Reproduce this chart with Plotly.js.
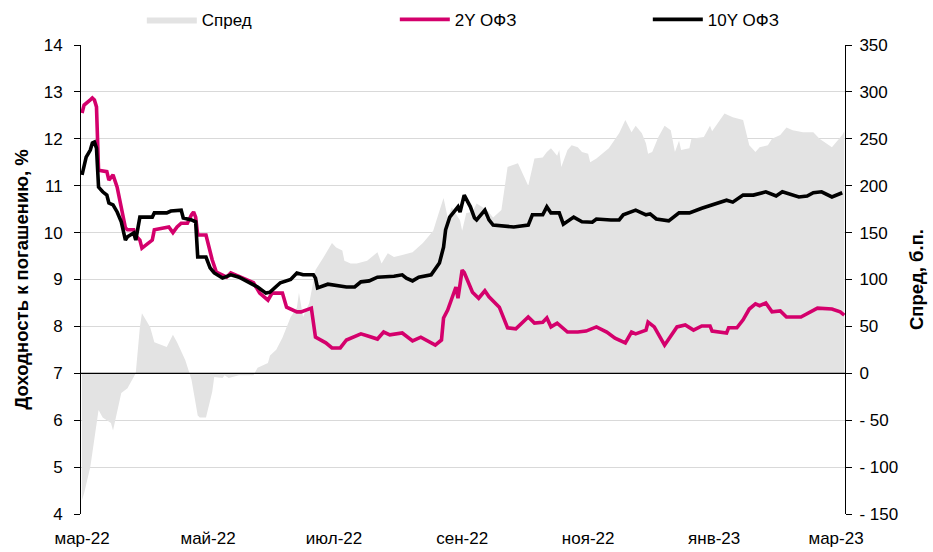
<!DOCTYPE html>
<html>
<head>
<meta charset="utf-8">
<script src="https://cdn.plot.ly/plotly-3.0.1.min.js"></script>
<style>html,body{margin:0;padding:0;background:#fff;}#chart{width:933px;height:552px;}</style>
</head>
<body>
<div id="chart"></div>
<script>
// 10Y OFZ yield, %
const dates10Y = ["2022-03-01","2022-03-03","2022-03-05","2022-03-06","2022-03-07","2022-03-08","2022-03-09","2022-03-11","2022-03-13","2022-03-14","2022-03-16","2022-03-18","2022-03-20","2022-03-22","2022-03-23","2022-03-26","2022-03-27","2022-03-29","2022-04-04","2022-04-05","2022-04-11","2022-04-13","2022-04-18","2022-04-19","2022-04-23","2022-04-25","2022-04-26","2022-04-30","2022-05-02","2022-05-04","2022-05-08","2022-05-12","2022-05-16","2022-05-20","2022-05-25","2022-05-29","2022-05-31","2022-06-05","2022-06-10","2022-06-13","2022-06-16","2022-06-21","2022-06-22","2022-06-23","2022-06-28","2022-07-07","2022-07-11","2022-07-14","2022-07-18","2022-07-22","2022-07-27","2022-07-30","2022-08-03","2022-08-05","2022-08-08","2022-08-11","2022-08-17","2022-08-20","2022-08-21","2022-08-23","2022-08-24","2022-08-26","2022-08-30","2022-08-31","2022-09-02","2022-09-05","2022-09-07","2022-09-08","2022-09-12","2022-09-14","2022-09-16","2022-09-26","2022-10-03","2022-10-05","2022-10-10","2022-10-12","2022-10-14","2022-10-18","2022-10-20","2022-10-25","2022-10-29","2022-11-03","2022-11-05","2022-11-12","2022-11-16","2022-11-18","2022-11-24","2022-11-29","2022-12-01","2022-12-04","2022-12-10","2022-12-15","2022-12-20","2022-12-26","2022-12-31","2023-01-07","2023-01-10","2023-01-15","2023-01-20","2023-01-26","2023-01-31","2023-02-03","2023-02-11","2023-02-15","2023-02-18","2023-02-22","2023-02-27","2023-03-04"];
const yield10Y = [11.23,11.61,11.76,11.91,11.93,11.80,10.97,10.87,10.80,10.63,10.59,10.44,10.23,9.84,9.91,9.99,9.84,10.33,10.33,10.42,10.42,10.46,10.48,10.31,10.27,10.23,9.48,9.48,9.25,9.14,9.03,9.10,9.05,8.95,8.84,8.71,8.73,8.93,9.00,9.14,9.10,9.10,9.03,8.82,8.90,8.84,8.84,8.95,8.97,9.05,9.06,9.07,9.10,9.03,8.97,9.05,9.10,9.27,9.35,9.69,10.06,10.33,10.55,10.44,10.80,10.55,10.31,10.27,10.48,10.27,10.16,10.12,10.16,10.38,10.38,10.55,10.42,10.42,10.18,10.33,10.23,10.22,10.29,10.27,10.27,10.38,10.48,10.38,10.40,10.29,10.25,10.42,10.42,10.52,10.59,10.69,10.65,10.80,10.80,10.87,10.78,10.87,10.76,10.78,10.85,10.87,10.76,10.85];

// 2Y OFZ yield, %
const dates2Y = ["2022-03-01","2022-03-02","2022-03-05","2022-03-06","2022-03-07","2022-03-08","2022-03-09","2022-03-13","2022-03-14","2022-03-16","2022-03-18","2022-03-19","2022-03-22","2022-03-23","2022-03-26","2022-03-27","2022-03-29","2022-03-30","2022-04-04","2022-04-05","2022-04-12","2022-04-14","2022-04-16","2022-04-18","2022-04-21","2022-04-23","2022-04-24","2022-04-25","2022-04-26","2022-04-30","2022-05-01","2022-05-03","2022-05-05","2022-05-10","2022-05-12","2022-05-18","2022-05-23","2022-05-26","2022-05-30","2022-06-01","2022-06-06","2022-06-08","2022-06-13","2022-06-15","2022-06-20","2022-06-22","2022-06-27","2022-06-30","2022-07-04","2022-07-07","2022-07-10","2022-07-14","2022-07-17","2022-07-22","2022-07-25","2022-07-28","2022-08-03","2022-08-06","2022-08-08","2022-08-12","2022-08-16","2022-08-19","2022-08-22","2022-08-23","2022-08-25","2022-08-29","2022-08-30","2022-09-01","2022-09-02","2022-09-06","2022-09-09","2022-09-12","2022-09-14","2022-09-19","2022-09-23","2022-09-27","2022-10-03","2022-10-06","2022-10-10","2022-10-12","2022-10-14","2022-10-17","2022-10-22","2022-10-27","2022-10-31","2022-11-05","2022-11-10","2022-11-14","2022-11-19","2022-11-22","2022-11-24","2022-11-29","2022-11-30","2022-12-03","2022-12-08","2022-12-14","2022-12-18","2022-12-22","2022-12-26","2022-12-30","2022-12-31","2023-01-05","2023-01-07","2023-01-08","2023-01-12","2023-01-15","2023-01-18","2023-01-21","2023-01-23","2023-01-26","2023-01-29","2023-02-02","2023-02-05","2023-02-12","2023-02-16","2023-02-20","2023-02-27","2023-03-03","2023-03-05"];
const yield2Y = [12.55,12.72,12.83,12.87,12.83,12.68,11.33,11.30,11.12,11.23,10.97,10.76,10.10,10.06,10.06,9.93,9.84,9.67,9.84,10.06,10.12,10.00,10.12,10.20,10.20,10.38,10.44,10.33,9.95,9.95,9.78,9.42,9.16,9.05,9.14,9.03,8.93,8.71,8.56,8.71,8.71,8.41,8.31,8.31,8.39,7.77,7.65,7.54,7.54,7.71,7.77,7.84,7.80,7.73,7.88,7.82,7.86,7.76,7.69,7.77,7.67,7.60,7.71,8.18,8.35,8.84,8.60,9.20,9.15,8.73,8.60,8.76,8.63,8.41,7.97,7.95,8.20,8.07,8.09,8.18,7.99,8.07,7.88,7.88,7.90,7.99,7.88,7.75,7.65,7.88,7.84,7.92,8.09,7.99,7.60,7.99,8.03,7.92,8.01,8.01,7.90,7.88,7.86,7.97,7.97,8.14,8.37,8.48,8.44,8.50,8.31,8.33,8.20,8.20,8.29,8.39,8.37,8.31,8.24];

// Spread, b.p.
const datesSpread = ["2022-03-01","2022-03-02","2022-03-05","2022-03-06","2022-03-08","2022-03-09","2022-03-11","2022-03-15","2022-03-16","2022-03-17","2022-03-18","2022-03-20","2022-03-23","2022-03-26","2022-03-27","2022-03-29","2022-03-30","2022-04-03","2022-04-05","2022-04-11","2022-04-14","2022-04-16","2022-04-20","2022-04-23","2022-04-26","2022-04-27","2022-04-30","2022-05-03","2022-05-04","2022-05-08","2022-05-09","2022-05-11","2022-05-16","2022-05-23","2022-05-25","2022-05-30","2022-05-31","2022-06-03","2022-06-06","2022-06-10","2022-06-13","2022-06-14","2022-06-16","2022-06-19","2022-06-22","2022-06-26","2022-06-28","2022-06-30","2022-07-02","2022-07-05","2022-07-06","2022-07-09","2022-07-12","2022-07-17","2022-07-22","2022-07-24","2022-07-27","2022-07-30","2022-08-03","2022-08-08","2022-08-13","2022-08-18","2022-08-20","2022-08-23","2022-08-25","2022-08-27","2022-08-31","2022-09-01","2022-09-03","2022-09-06","2022-09-08","2022-09-13","2022-09-16","2022-09-20","2022-09-23","2022-09-28","2022-10-03","2022-10-06","2022-10-10","2022-10-12","2022-10-14","2022-10-17","2022-10-18","2022-10-19","2022-10-22","2022-10-24","2022-10-27","2022-10-29","2022-11-01","2022-11-02","2022-11-05","2022-11-08","2022-11-11","2022-11-16","2022-11-19","2022-11-22","2022-11-24","2022-11-27","2022-11-29","2022-11-30","2022-12-02","2022-12-05","2022-12-08","2022-12-11","2022-12-13","2022-12-15","2022-12-16","2022-12-20","2022-12-21","2022-12-27","2022-12-30","2022-12-31","2023-01-04","2023-01-06","2023-01-10","2023-01-15","2023-01-18","2023-01-21","2023-01-23","2023-01-27","2023-01-29","2023-02-02","2023-02-05","2023-02-08","2023-02-13","2023-02-18","2023-02-21","2023-02-27","2023-03-04","2023-03-05"];
const spreadBp = [-135,-128,-100,-85,-58,-39,-47,-53,-61,-50,-43,-21,-16,-5,0,49,64,49,33,28,41,33,14,-7,-45,-47,-47,-20,-4,-5,-2,-5,-2,-2,6,11,19,25,38,60,70,86,60,75,110,124,131,139,134,131,120,117,117,120,129,117,128,124,126,129,139,152,166,187,166,177,163,152,171,172,181,174,166,174,220,224,200,229,230,236,240,232,238,220,238,243,241,236,234,225,229,234,240,256,270,257,264,256,245,234,236,252,264,259,236,248,238,240,250,252,264,258,270,277,273,270,243,236,241,243,250,254,262,259,257,257,250,241,254,258];

const tickDates = ["2022-03-01","2022-05-01","2022-07-01","2022-09-01","2022-11-01","2023-01-01","2023-03-01"];
const tickLabels = ["мар-22","май-22","июл-22","сен-22","ноя-22","янв-23","мар-23"];
const spreadTicks = [-150,-100,-50,0,50,100,150,200,250,300,350];
const spreadTickLabels = ["- 150","- 100","- 50","0","50","100","150","200","250","300","350"];

const FONT = '"Liberation Sans", Arial, sans-serif';

const traces = [
  {x: datesSpread, y: spreadBp, name: 'Спред', type: 'scatter', mode: 'lines',
   fill: 'tozeroy', fillcolor: '#e3e3e3', line: {width: 0, color: '#e3e3e3'}, yaxis: 'y'},
  {x: dates2Y, y: yield2Y, name: '2Y ОФЗ', type: 'scatter', mode: 'lines',
   line: {color: '#d4006c', width: 3.6}, yaxis: 'y2'},
  {x: dates10Y, y: yield10Y, name: '10Y ОФЗ', type: 'scatter', mode: 'lines',
   line: {color: '#000000', width: 3.6}, yaxis: 'y2'}
];

const layout = {
  width: 933, height: 552,
  margin: {l: 81, r: 88, t: 45, b: 38, autoexpand: false},
  paper_bgcolor: '#fff', plot_bgcolor: '#fff',
  font: {family: FONT, size: 17, color: '#000'},
  showlegend: true,
  legend: {orientation: 'h', xref: 'container', yref: 'container',
           x: 0.152, xanchor: 'left', y: 0.964, yanchor: 'middle',
           entrywidth: 188, entrywidthmode: 'pixels', font: {family: FONT, size: 17},
           bgcolor: 'rgba(0,0,0,0)', itemwidth: 50, traceorder: 'normal'},
  xaxis: {type: 'date', range: ['2022-02-28 12:00', '2023-03-05 08:00'],
          tickvals: tickDates, ticktext: tickLabels, ticks: '', showgrid: false,
          showline: false, zeroline: false, ticklabelstandoff: 12,
          tickfont: {family: FONT, size: 17}},
  yaxis: {side: 'right', range: [-150, 350], tickvals: spreadTicks, ticktext: spreadTickLabels,
          showgrid: true, gridcolor: '#d9d9d9', gridwidth: 1, zeroline: false,
          showline: true, linecolor: '#000', linewidth: 1, ticks: 'outside', ticklen: 6,
          tickcolor: '#000', ticklabelstandoff: 4,
          title: {text: '<b>Спред, б.п.</b>', font: {family: FONT, size: 18.5}, standoff: 12}},
  yaxis2: {side: 'left', overlaying: 'y', range: [4, 14], dtick: 1, tick0: 4,
           showgrid: false, zeroline: false, showline: true, linecolor: '#000', linewidth: 1,
           ticks: 'outside', ticklen: 6, tickcolor: '#000', ticklabelstandoff: 8,
           title: {text: '<b>Доходность к погашению, %</b>', font: {family: FONT, size: 18.5}, standoff: 10}},
  shapes: [{type: 'line', xref: 'paper', x0: 0, x1: 1, yref: 'y', y0: 0, y1: 0,
            line: {color: '#000', width: 1.2}, layer: 'above'}]
};

Plotly.newPlot('chart', traces, layout, {displayModeBar: false, staticPlot: true});
</script>
</body>
</html>
